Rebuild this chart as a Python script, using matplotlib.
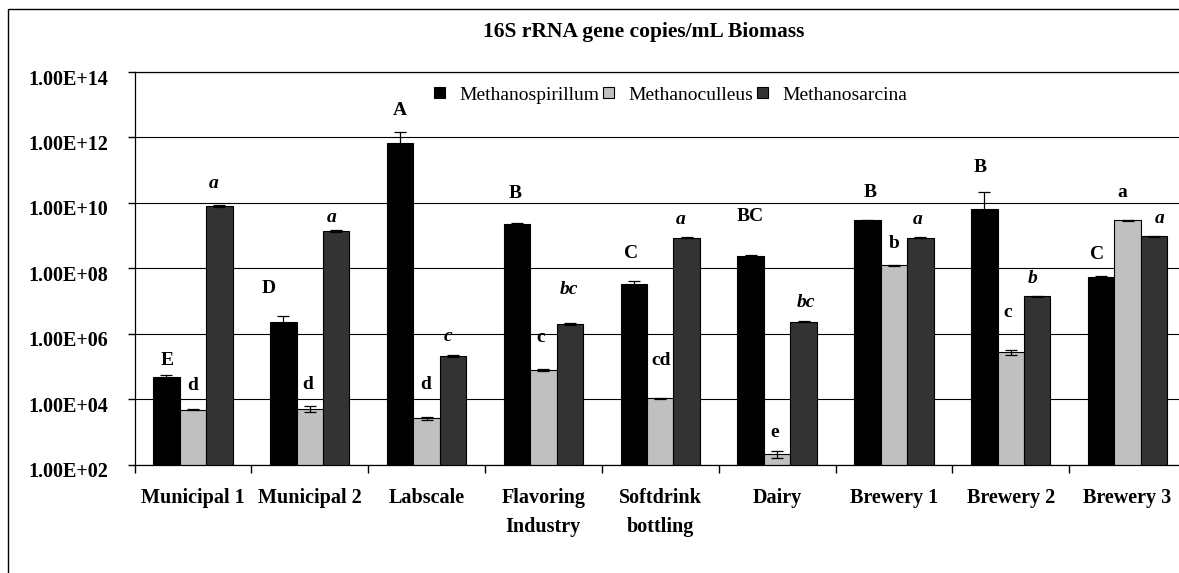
"""16S rRNA gene copies per mL biomass, three methanogen genera per digester."""

from __future__ import annotations

import matplotlib

matplotlib.use("Agg")
import matplotlib.pyplot as plt
import matplotlib.transforms as mtransforms
import numpy as np
from matplotlib.patches import Rectangle
from matplotlib.ticker import FixedLocator, FuncFormatter, NullLocator

categories = [
    "Municipal 1",
    "Municipal 2",
    "Labscale",
    "Flavoring\nIndustry",
    "Softdrink\nbottling",
    "Dairy",
    "Brewery 1",
    "Brewery 2",
    "Brewery 3",
]
series_names = ["Methanospirillum", "Methanoculleus", "Methanosarcina"]

spirillum = [4.6e4, 2.3e6, 6.6e11, 2.3e9, 3.2e7, 2.45e8, 2.95e9, 6.3e9, 5.4e7]
spirillum_err = [7e3, 1.2e6, 8.5e11, 5e7, 8e6, 3e6, 1e8, 1.46e10, 3e6]
culleus = [4.8e3, 5.1e3, 2.6e3, 7.8e4, 1.07e4, 2.05e2, 1.23e8, 2.75e5, 2.9e9]
culleus_err = [3e2, 1.1e3, 3e2, 5e3, 3e2, 45, 2e6, 5e4, 1.2e8]
sarcina = [8e9, 1.4e9, 2.1e5, 1.95e6, 8.7e8, 2.3e6, 8.7e8, 1.38e7, 9.5e8]
sarcina_err = [8e8, 1.3e8, 2e4, 1e5, 3e7, 1e5, 3e7, 3e5, 4e7]

spirillum_letters = ["E", "D", "A", "B", "C", "BC", "B", "B", "C"]
culleus_letters = ["d", "d", "d", "c", "cd", "e", "b", "c", "a"]
sarcina_letters = ["a", "a", "c", "bc", "a", "bc", "a", "b", "a"]

y_ticks = [1e2, 1e4, 1e6, 1e8, 1e10, 1e12, 1e14]

# layout only: pixel nudges of the significance letters (dx, dy above bar top)
SPIRILLUM_NUDGE = [(1, 15), (-15, 27), (0, 21), (-2, 30), (-3, 28), (0, 39), (3, 27), (-4, 25), (-4, 22)]
CULLEUS_NUDGE = [(0, 23), (-2, 21), (-1, 32), (-3, 32), (1, 37), (-2, 19), (0, 22), (-3, 37), (-5, 27)]
SARCINA_NUDGE = [(-6, 21), (-5, 12), (-5, 18), (-1, 34), (-6, 18), (2, 19), (-3, 18), (-5, 18), (6, 17)]

COLORS = ["#000000", "#c0c0c0", "#333333"]
W_PX, H_PX = 1179, 573
BAR_W = 0.2265
FS = 14
TICK_FS = 14.5


def _draw_series(ax, x, values, errors, color, letters, nudges, style):
    values = np.asarray(values, dtype=float)
    errors = np.asarray(errors, dtype=float)
    bars = ax.bar(x, values, width=BAR_W, color=color, edgecolor="black", linewidth=0.8, zorder=2)
    lower = np.minimum(errors, values * 0.999)
    ax.errorbar(
        x, values, yerr=[lower, errors], fmt="none", ecolor="black",
        elinewidth=0.9, capsize=4, capthick=0.9, zorder=3,
    )
    for xi, top, letter, (dx, dy) in zip(x, values + errors, letters, nudges):
        ax.annotate(
            letter, xy=(xi, top), xytext=(dx, dy), textcoords="offset pixels",
            ha="center", va="center", fontsize=FS, fontweight="bold", fontstyle=style,
            annotation_clip=False, zorder=4,
        )
    return bars


def main() -> None:
    plt.rcParams["font.family"] = ["Liberation Serif", "DejaVu Serif"]
    fig = plt.figure(figsize=(W_PX / 100, H_PX / 100), dpi=100)

    left, right, top, bottom = 134.5, 1186.0, 72.0, 464.5
    ax = fig.add_axes([left / W_PX, 1 - bottom / H_PX, (right - left) / W_PX, (bottom - top) / H_PX])

    n = len(categories)
    centers = np.arange(n) + 0.5
    handles = []
    for offset, vals, errs, color, letters, nudges, style in [
        (-BAR_W, spirillum, spirillum_err, COLORS[0], spirillum_letters, SPIRILLUM_NUDGE, "normal"),
        (0.0, culleus, culleus_err, COLORS[1], culleus_letters, CULLEUS_NUDGE, "normal"),
        (BAR_W, sarcina, sarcina_err, COLORS[2], sarcina_letters, SARCINA_NUDGE, "italic"),
    ]:
        handles.append(_draw_series(ax, centers + offset, vals, errs, color, letters, nudges, style))

    ax.set_yscale("log")
    ax.set_ylim(y_ticks[0], y_ticks[-1])
    ax.set_xlim(0, n)
    ax.yaxis.set_major_locator(FixedLocator(y_ticks))
    ax.yaxis.set_minor_locator(NullLocator())
    ax.yaxis.set_major_formatter(FuncFormatter(lambda v, _pos: f"{v:.2E}"))
    ax.tick_params(axis="y", direction="out", length=5, width=1, pad=14, labelsize=TICK_FS)
    for label in ax.get_yticklabels():
        label.set_fontweight("bold")
        label.set_transform(label.get_transform() + mtransforms.ScaledTranslation(0, -0.05, fig.dpi_scale_trans))

    ax.set_xticks(np.arange(n + 1))
    ax.set_xticklabels([])
    ax.set_xticks(centers, categories, minor=True)
    ax.tick_params(axis="x", which="major", direction="out", length=6, width=1)
    ax.tick_params(axis="x", which="minor", length=0, pad=17, labelsize=TICK_FS)
    for label in ax.get_xticklabels(minor=True):
        label.set_fontweight("bold")
        label.set_linespacing(1.6)

    ax.yaxis.grid(True, which="major", color="black", linewidth=0.8)
    ax.set_axisbelow(True)
    for side in ("left", "bottom", "top"):
        ax.spines[side].set_color("black")
        ax.spines[side].set_linewidth(0.9)
    ax.spines["right"].set_visible(False)

    ax.legend(
        handles, series_names, ncol=3, frameon=False, loc="center left",
        bbox_to_anchor=(434 / W_PX, 1 - 95 / H_PX), bbox_transform=fig.transFigure,
        handlelength=0.55, handleheight=0.55, handletextpad=0.75, columnspacing=0.2,
        borderpad=0, borderaxespad=0, fontsize=FS,
    )

    fig.text(644 / W_PX, 1 - 37 / H_PX, "16S rRNA gene copies/mL Biomass",
             ha="center", va="baseline", fontsize=15.5, fontweight="bold")
    fig.add_artist(Rectangle((8 / W_PX, -0.05), 1.1, 1.05 - 9.5 / H_PX, transform=fig.transFigure,
                             fill=False, edgecolor="black", linewidth=1))

    fig.savefig("out.png", dpi=100)
    plt.close(fig)


if __name__ == "__main__":
    main()
